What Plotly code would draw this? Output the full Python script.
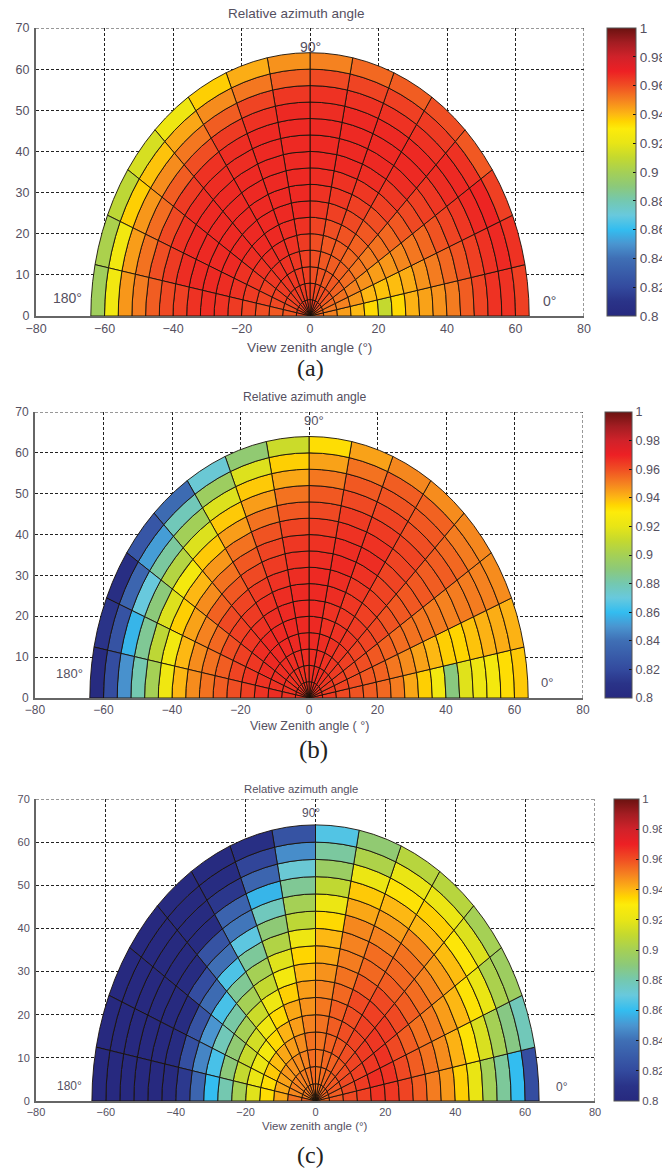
import numpy as np
import plotly.graph_objects as go

W, H = 662, 1170
ring_edges = [0, 4, 8, 12, 16, 20, 24, 28, 32, 36, 40, 44, 48, 52, 56, 60, 64]
sector_edges = [0, 11.25, 22.5, 33.75, 45, 56.25, 67.5, 78.75, 90, 101.25, 112.5, 123.75, 135, 146.25, 157.5, 168.75, 180]
x_ticks = [-80, -60, -40, -20, 0, 20, 40, 60, 80]
y_ticks = [0, 10, 20, 30, 40, 50, 60, 70]
cbar_ticks = [0.8, 0.82, 0.84, 0.86, 0.88, 0.9, 0.92, 0.94, 0.96, 0.98, 1.0]
cbar_text = ["0.8", "0.82", "0.84", "0.86", "0.88", "0.9", "0.92", "0.94", "0.96", "0.98", "1"]

# rows: sector from 0 deg side to 180 deg side; columns: ring from centre outwards
values_a = [
 [.955,.95,.945,.94,.934,.91,.934,.941,.944,.947,.951,.957,.962,.966,.966,.963],
 [.955,.952,.95,.946,.94,.938,.939,.942,.947,.951,.955,.959,.963,.966,.968,.966],
 [.957,.955,.953,.95,.947,.945,.946,.949,.952,.955,.959,.962,.965,.968,.969,.963],
 [.96,.958,.956,.954,.952,.951,.953,.955,.958,.961,.963,.965,.967,.968,.966,.958],
 [.962,.96,.958,.956,.955,.956,.958,.96,.963,.965,.967,.968,.968,.966,.964,.96],
 [.963,.96,.958,.957,.957,.959,.961,.963,.965,.967,.968,.968,.968,.966,.963,.957],
 [.964,.961,.959,.958,.958,.96,.963,.965,.966,.968,.968,.968,.968,.966,.962,.955],
 [.964,.962,.96,.96,.96,.962,.965,.966,.967,.968,.968,.968,.967,.966,.961,.95],
 [.964,.963,.963,.963,.964,.966,.968,.968,.968,.968,.968,.968,.968,.965,.957,.947],
 [.964,.964,.964,.965,.966,.967,.968,.968,.968,.968,.968,.968,.966,.962,.952,.942],
 [.964,.964,.965,.966,.967,.968,.968,.968,.968,.968,.967,.967,.964,.957,.948,.936],
 [.964,.964,.965,.966,.967,.968,.968,.968,.968,.968,.967,.966,.96,.952,.943,.923],
 [.963,.963,.964,.965,.966,.967,.968,.968,.968,.968,.967,.964,.957,.948,.938,.915],
 [.962,.962,.963,.963,.965,.966,.968,.968,.968,.968,.966,.961,.954,.946,.936,.908],
 [.962,.96,.961,.962,.964,.966,.967,.968,.968,.967,.964,.96,.953,.945,.925,.902],
 [.96,.958,.958,.96,.962,.964,.966,.967,.966,.963,.961,.957,.951,.946,.925,.898],
]
values_b = [
 [.966,.964,.961,.959,.957,.955,.951,.943,.936,.925,.889,.918,.923,.926,.933,.937],
 [.966,.964,.962,.96,.958,.956,.952,.948,.944,.94,.936,.935,.938,.941,.942,.941],
 [.966,.964,.963,.961,.96,.958,.956,.954,.953,.952,.951,.95,.951,.951,.95,.948],
 [.966,.965,.964,.963,.962,.962,.961,.959,.958,.958,.958,.957,.957,.955,.951,.949],
 [.967,.966,.965,.965,.965,.964,.963,.963,.962,.962,.962,.962,.96,.958,.956,.948],
 [.967,.967,.966,.966,.966,.965,.965,.965,.966,.967,.966,.964,.962,.959,.957,.949],
 [.967,.967,.967,.967,.966,.966,.967,.967,.968,.967,.966,.964,.961,.958,.953,.944],
 [.967,.967,.967,.968,.968,.968,.968,.968,.967,.966,.964,.961,.958,.952,.944,.933],
 [.966,.966,.967,.968,.968,.968,.968,.967,.966,.965,.962,.958,.953,.943,.936,.912],
 [.966,.966,.967,.968,.968,.968,.967,.966,.964,.962,.959,.953,.945,.937,.917,.892],
 [.966,.966,.967,.968,.968,.967,.966,.964,.961,.958,.953,.945,.937,.917,.897,.872],
 [.966,.966,.967,.968,.968,.966,.964,.962,.958,.953,.946,.937,.917,.899,.878,.838],
 [.966,.966,.967,.968,.967,.965,.963,.961,.956,.948,.94,.926,.905,.883,.852,.827],
 [.966,.966,.967,.967,.965,.963,.96,.955,.95,.944,.936,.917,.89,.87,.835,.805],
 [.966,.966,.966,.966,.965,.962,.957,.953,.948,.94,.925,.908,.885,.858,.825,.81],
 [.966,.966,.967,.966,.963,.96,.957,.953,.948,.94,.924,.9,.88,.849,.822,.802],
]
values_c = [
 [.955,.958,.961,.963,.966,.965,.962,.957,.951,.946,.936,.921,.899,.884,.86,.822],
 [.955,.957,.961,.964,.967,.966,.961,.957,.953,.948,.941,.932,.916,.9,.888,.878],
 [.956,.958,.961,.963,.965,.966,.961,.957,.953,.951,.945,.94,.932,.921,.902,.897],
 [.956,.958,.96,.962,.964,.965,.964,.961,.957,.954,.95,.945,.939,.931,.917,.9],
 [.955,.957,.958,.96,.962,.963,.963,.961,.957,.955,.953,.949,.94,.936,.922,.906],
 [.954,.955,.956,.958,.96,.96,.961,.958,.955,.954,.95,.945,.94,.932,.921,.906],
 [.954,.954,.955,.956,.957,.957,.955,.953,.951,.95,.949,.943,.937,.922,.903,.892],
 [.953,.953,.953,.953,.953,.952,.95,.947,.943,.94,.934,.922,.909,.896,.883,.866],
 [.954,.955,.954,.953,.95,.947,.945,.94,.935,.923,.908,.9,.885,.872,.848,.825],
 [.953,.952,.95,.948,.945,.943,.936,.926,.918,.904,.891,.877,.858,.835,.818,.806],
 [.953,.951,.948,.945,.941,.934,.923,.91,.9,.884,.868,.842,.834,.812,.803,.802],
 [.952,.95,.947,.943,.934,.924,.912,.9,.885,.865,.84,.825,.803,.802,.801,.801],
 [.952,.95,.946,.939,.926,.914,.9,.882,.864,.838,.822,.803,.801,.801,.8,.8],
 [.952,.95,.944,.937,.922,.911,.892,.878,.85,.825,.803,.801,.801,.8,.8,.8],
 [.951,.949,.943,.933,.921,.91,.89,.864,.846,.823,.803,.8,.8,.8,.8,.8],
 [.956,.953,.943,.933,.918,.9,.88,.86,.835,.813,.801,.8,.8,.8,.8,.8],
]

scale_values = [0.8, 0.81, 0.82, 0.84, 0.85, 0.86, 0.87, 0.88, 0.89, 0.90, 0.91, 0.92, 0.93, 0.935, 0.94, 0.95, 0.96, 0.97, 0.98, 0.99, 1.0]
scale_colors = ["#27297f", "#2a3388", "#334a9e", "#3f6fb5", "#4a95d0", "#33bdf0", "#68c9dd", "#74c8b0",
                "#8cc97a", "#a5d055", "#c4d92f", "#e8e516", "#fdeb0a", "#ffd500", "#fdb813", "#f58220",
                "#f04e23", "#ed2024", "#d0222a", "#a31d22", "#6b1210"]


def to_rgb(h):
    return np.array([int(h[i:i + 2], 16) for i in (1, 3, 5)], float)


rgb = np.array([to_rgb(c) for c in scale_colors])


def color_of(v):
    return "rgb(%d,%d,%d)" % tuple(np.interp(v, scale_values, rgb[:, i]) for i in range(3))


colorscale = [[round((v - 0.8) / 0.2, 5), c] for v, c in zip(scale_values, scale_colors)]

panels = [
    dict(vals=values_a, x0=36, x1=584, y0=28, y1=316, cb0=607, cb1=636, title="Relative azimuth angle", xt="View zenith angle (°)",
         tit=(296, 14, 13.5), xtit=(309, 347, 13.7), lab=("(a)", 310, 368, 24), size=12.5, cbsize=13.5, lsize=14,
         l90=(0, 65.4), l180=(-70.8, 4.4), l0=(70, 3.6)),
    dict(vals=values_b, x0=35, x1=583, y0=412, y1=698, cb0=605, cb1=632, title="Relative azimuth angle", xt="View Zenith angle ( °)",
         tit=(305, 397, 12.2), xtit=(309, 726, 12.5), lab=("(b)", 313, 750, 25), size=12, cbsize=12.5, lsize=13,
         l90=(1.4, 67.8), l180=(-69.9, 6.1), l0=(69.5, 3.9)),
    dict(vals=values_c, x0=36, x1=595, y0=799, y1=1101, cb0=614, cb1=639, title="Relative azimuth angle", xt="View zenith angle (°)",
         tit=(301, 789, 11.3), xtit=(315, 1126, 11.5), lab=("(c)", 310, 1155, 24), size=11, cbsize=11.5, lsize=12,
         l90=(-1.3, 66.8), l180=(-70.3, 3.5), l0=(70.5, 3.2)),
]

FONT = "Liberation Sans, Arial, sans-serif"
TXT = "#55505f"
fig = go.Figure()
annos = []
shapes = []
layout = {}
for n, p in enumerate(panels):
    sx = "" if n == 0 else str(n + 1)
    xa, ya = "x" + sx, "y" + sx
    for s, row in enumerate(p["vals"]):
        t0, t1 = np.radians(sector_edges[s]), np.radians(sector_edges[s + 1])
        tt = np.linspace(t0, t1, 4)
        for k, v in enumerate(row):
            r0, r1 = ring_edges[k], ring_edges[k + 1]
            xs = np.r_[r0 * np.cos(tt), r1 * np.cos(tt[::-1]), r0 * np.cos(tt[0])]
            ys = np.r_[r0 * np.sin(tt), r1 * np.sin(tt[::-1]), r0 * np.sin(tt[0])]
            fig.add_trace(go.Scatter(x=xs, y=ys, xaxis=xa, yaxis=ya, mode="lines", fill="toself", fillcolor=color_of(v),
                                     line=dict(color="#1a120a", width=0.9), hoverinfo="skip", showlegend=False))
    cb = dict(x=p["cb0"] / W, xanchor="left", xpad=0, ypad=0, y=1 - p["y1"] / H, yanchor="bottom",
              len=(p["y1"] - p["y0"]) / H, lenmode="fraction", thickness=p["cb1"] - p["cb0"], thicknessmode="pixels",
              tickvals=cbar_ticks, ticktext=cbar_text, ticks="inside", ticklen=3, tickcolor="#111", tickwidth=1,
              outlinecolor="#555", outlinewidth=1, tickfont=dict(family=FONT, size=p["cbsize"], color=TXT))
    fig.add_trace(go.Scatter(x=[None], y=[None], xaxis=xa, yaxis=ya, mode="markers", showlegend=False, hoverinfo="skip",
                             marker=dict(color=[0.9], cmin=0.8, cmax=1.0, colorscale=colorscale, showscale=True, colorbar=cb)))
    common = dict(showgrid=True, griddash="3px,2px", gridcolor="#222", gridwidth=1, zeroline=False, ticks="", showline=True,
                  linecolor="#666", linewidth=2, mirror=False, tickfont=dict(family=FONT, size=p["size"], color=TXT))
    layout["xaxis" + sx] = dict(common, domain=[p["x0"] / W, p["x1"] / W], range=[-80, 80], tickvals=x_ticks, anchor=ya)
    layout["yaxis" + sx] = dict(common, domain=[1 - p["y1"] / H, 1 - p["y0"] / H], range=[0, 70], tickvals=y_ticks, anchor=xa,
                                ticklabelstandoff=2)
    # dashed frame on the two far sides, where the grid falls on the axis ends
    frame = dict(color="#333", width=1, dash="3px,2px")
    shapes.append(dict(type="line", xref=xa, yref=ya, x0=-80, x1=80, y0=y_ticks[-1], y1=y_ticks[-1], line=frame, layer="above"))
    shapes.append(dict(type="line", xref=xa, yref=ya, x0=x_ticks[-1], x1=x_ticks[-1], y0=0, y1=70, line=frame, layer="above"))
    # colour-bar ticks on the left side as well
    for tv in cbar_ticks[1:-1]:
        yp = 1 - (p["y1"] - (tv - 0.8) / 0.2 * (p["y1"] - p["y0"])) / H
        shapes.append(dict(type="line", xref="paper", yref="paper", x0=p["cb0"] / W, x1=(p["cb0"] + 3) / W, y0=yp, y1=yp,
                           line=dict(color="#111", width=1), layer="above"))
    for txt, (px, py, size), fam, col in [
        (p["title"], p["tit"], FONT, TXT),
        (p["xt"], p["xtit"], FONT, TXT),
        (p["lab"][0], p["lab"][1:], "Liberation Serif, serif", "#222"),
    ]:
        annos.append(dict(text=txt, x=px / W, y=1 - py / H, xref="paper", yref="paper", showarrow=False, xanchor="center",
                          yanchor="middle", font=dict(family=fam, size=size, color=col)))
    for txt, pos in [("90°", p["l90"]), ("180°", p["l180"]), ("0°", p["l0"])]:
        annos.append(dict(text=txt, x=pos[0], y=pos[1], xref=xa, yref=ya, showarrow=False,
                          font=dict(family=FONT, size=p["lsize"], color=TXT)))

fig.update_layout(width=W, height=H, margin=dict(l=0, r=0, t=0, b=0, autoexpand=False), paper_bgcolor="white",
                  plot_bgcolor="white", annotations=annos, shapes=shapes, showlegend=False, **layout)
fig.write_html("out.html", config={"displayModeBar": False},
               post_script="document.body.style.margin='0';document.body.style.overflow='hidden';")
